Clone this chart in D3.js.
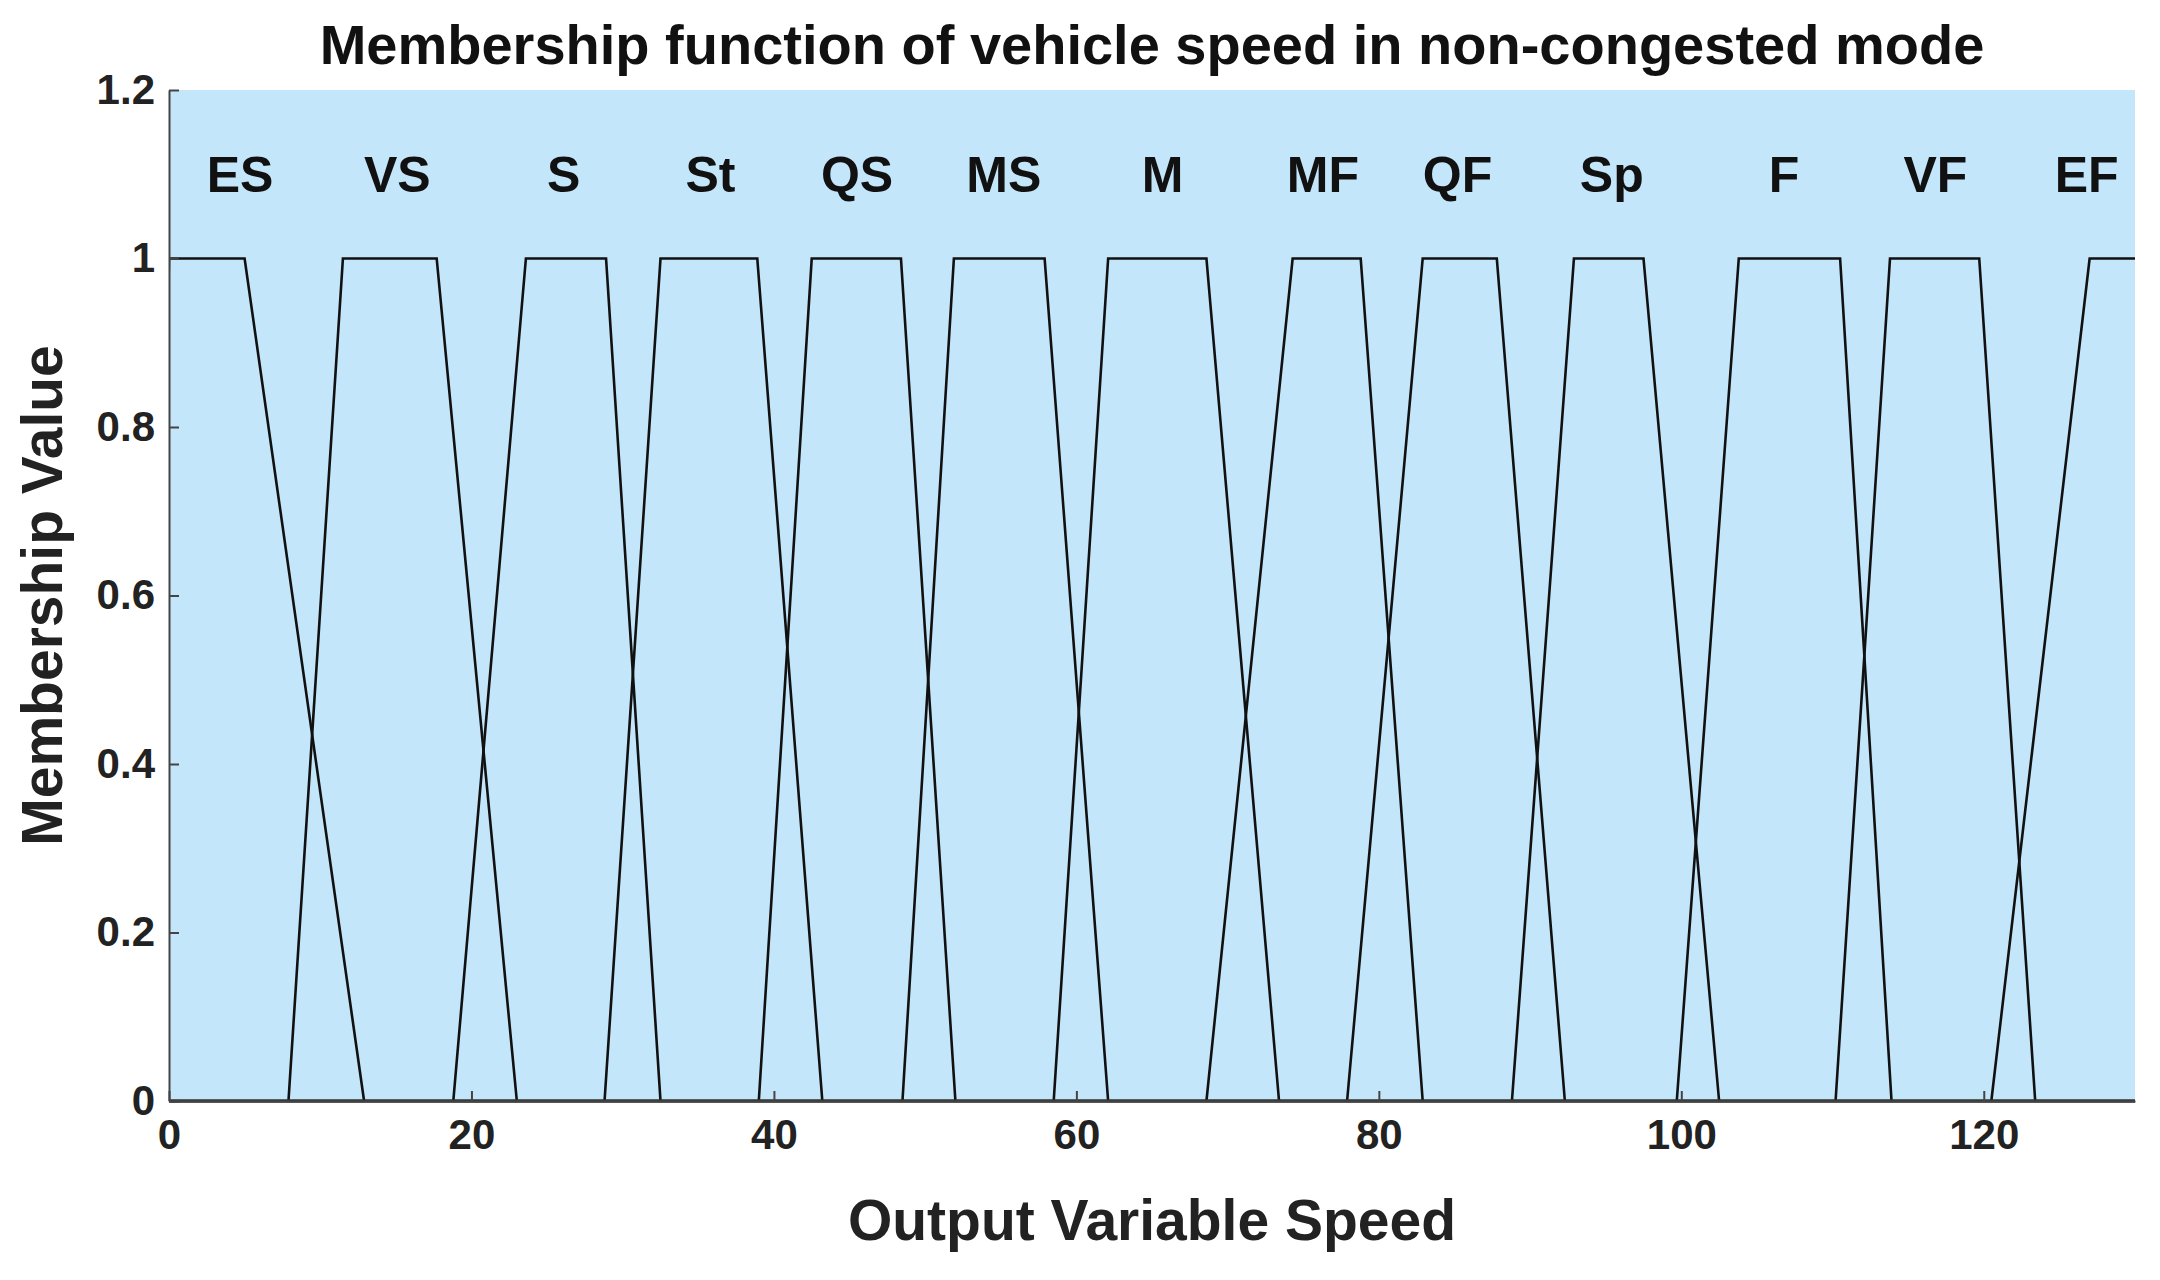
<!DOCTYPE html>
<html><head><meta charset="utf-8">
<script src="https://cdn.jsdelivr.net/npm/d3@7"></script>
<style>body{margin:0;background:#fff}text{font-family:Arial,"Liberation Sans",sans-serif;font-weight:bold}</style>
</head><body><svg id="chart"></svg>
<script>
const W = 2160, H = 1280
const M = { left: 169, right: 25, top: 90, bottom: 179 }

const NAMES = ["ES","VS","S","St","QS","MS","M","MF","QF","Sp","F","VF","EF"]
// trapezoid corners [a,b,c,d]
const TRAPS = [
  [-1, 0, 5.0, 12.9],
  [7.9, 11.5, 17.7, 23.0],
  [18.8, 23.6, 28.9, 32.5],
  [28.8, 32.5, 38.9, 43.2],
  [39.0, 42.5, 48.4, 52.0],
  [48.5, 51.9, 57.9, 62.1],
  [58.5, 62.1, 68.6, 73.4],
  [68.6, 74.3, 78.8, 82.9],
  [77.9, 82.9, 87.8, 92.3],
  [88.8, 92.9, 97.5, 102.5],
  [99.7, 103.8, 110.5, 113.9],
  [110.2, 113.8, 119.7, 123.4],
  [120.5, 127.0, 135, 136]
]
const LABEL_X = [4.7, 15.1, 26.1, 35.8, 45.5, 55.2, 65.7, 76.3, 85.2, 95.4, 106.8, 116.8, 126.8]
const LABEL_Y = 1.095
const X_TICKS = [0, 20, 40, 60, 80, 100, 120]
const Y_TICKS = [0, 0.2, 0.4, 0.6, 0.8, 1, 1.2]

const svg = d3.select('#chart').attr('width', W).attr('height', H)
const x = d3.scaleLinear().domain([0, 130]).range([M.left, W - M.right])
const y = d3.scaleLinear().domain([0, 1.2]).range([H - M.bottom, M.top])

svg.append('rect').attr('x', x(0)).attr('y', y(1.2))
  .attr('width', x(130) - x(0)).attr('height', y(0) - y(1.2)).attr('fill', '#c4e6fb')

svg.append('clipPath').attr('id', 'clip').append('rect')
  .attr('x', x(0)).attr('y', y(1.2)).attr('width', x(130) - x(0)).attr('height', y(0) - y(1.2) + 2)

const line = d3.line().x(d => x(d[0])).y(d => y(d[1]))
svg.append('g').attr('clip-path', 'url(#clip)')
  .selectAll('path').data(TRAPS).join('path')
  .attr('d', t => line([[t[0], 0], [t[1], 1], [t[2], 1], [t[3], 0]]))
  .attr('fill', 'none').attr('stroke', '#111').attr('stroke-width', 2.6)

svg.append('line').attr('x1', x(0)).attr('x2', x(130)).attr('y1', y(0)).attr('y2', y(0))
  .attr('stroke', '#333').attr('stroke-width', 3.5)

const xa = svg.append('g').attr('transform', `translate(0,${y(0)})`)
  .call(d3.axisBottom(x).tickValues(X_TICKS).tickSize(-10).tickPadding(18).tickSizeOuter(0))
const ya = svg.append('g').attr('transform', `translate(${x(0)},0)`)
  .call(d3.axisLeft(y).tickValues(Y_TICKS).tickSize(-10).tickPadding(14).tickSizeOuter(0).tickFormat(d3.format('')))
;[xa, ya].forEach(a => {
  a.selectAll('text').attr('font-size', 42).attr('fill', '#222')
  a.selectAll('line,path').attr('stroke', '#444').attr('stroke-width', 2)
})

svg.append('g').selectAll('text').data(NAMES).join('text')
  .attr('x', (d, i) => x(LABEL_X[i])).attr('y', y(LABEL_Y))
  .attr('text-anchor', 'middle').attr('dominant-baseline', 'middle')
  .attr('font-size', 50).attr('fill', '#111').text(d => d)

svg.append('text').attr('x', (x(0) + x(130)) / 2).attr('y', 64).attr('text-anchor', 'middle')
  .attr('font-size', 56).attr('fill', '#111').text('Membership function of vehicle speed in non-congested mode')
svg.append('text').attr('x', (x(0) + x(130)) / 2).attr('y', 1240).attr('text-anchor', 'middle')
  .attr('font-size', 57).attr('fill', '#222').text('Output Variable Speed')
svg.append('text').attr('transform', `translate(62,${(y(0) + y(1.2)) / 2}) rotate(-90)`)
  .attr('text-anchor', 'middle').attr('font-size', 57).attr('fill', '#222').text('Membership Value')
</script></body></html>
